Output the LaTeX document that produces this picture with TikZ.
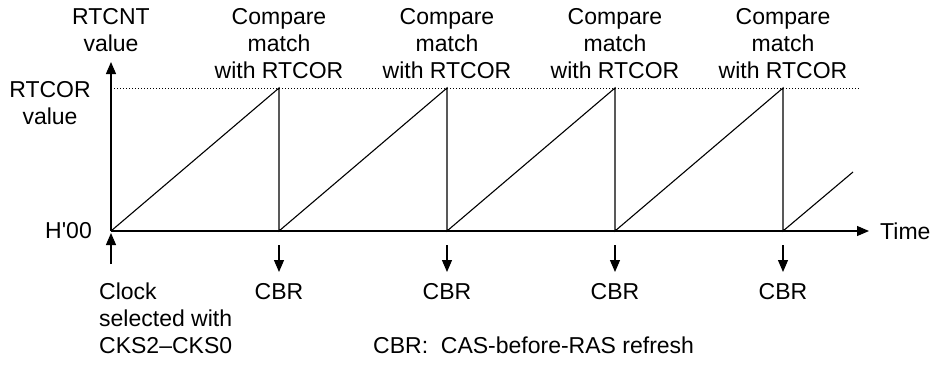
\documentclass[tikz,border=0pt]{standalone}
\usepackage{fontspec}
\setmainfont{Liberation Sans}
\usetikzlibrary{arrows.meta}
\begin{document}
\begin{tikzpicture}[x=1pt,y=-1pt,
  lbl/.style={inner sep=0pt,font=\fontsize{23}{27}\selectfont,align=center},
  lbll/.style={inner sep=0pt,font=\fontsize{23}{27}\selectfont,align=left},
  axis/.style={line width=1.2pt,-{Triangle[length=12pt,width=10pt]}},
  saw/.style={line width=1.1pt},
  evarrow/.style={line width=1.2pt,-{Triangle[length=12pt,width=10pt]}}]
\useasboundingbox (0,0) rectangle (939,364);
% axes
\coordinate (O) at (111,231);
\coordinate (ytop) at (111,62);
\coordinate (xend) at (869,231);
\draw[axis] (O) -- (ytop);
\draw[axis] (O) -- (xend);
% RTCOR level
\coordinate (d0) at (111,88);
\coordinate (d1) at (860,88);
\draw[dotted,line width=1pt] (d0) -- (d1);
% sawtooth
\foreach \i/\x in {1/279,2/447,3/615,4/783}{
  \coordinate (p\i) at (\x,88);
  \coordinate (b\i) at (\x,231);
  \coordinate (as\i) at (\x,245);
  \coordinate (ae\i) at (\x,272);
}
\coordinate (s5) at (853,172);
\draw[saw] (O) -- (p1) -- (b1) -- (p2) -- (b2) -- (p3) -- (b3) -- (p4) -- (b4) -- (s5);
% CBR arrows and labels
\foreach \i in {1,2,3,4}{
  \draw[evarrow] (as\i) -- (ae\i);
  \node[lbl,anchor=north] (cbr\i) at ([yshift=-11pt]ae\i) {CBR};
}
% clock start arrow
\coordinate (cs) at (111,264);
\coordinate (ce) at (111,233);
\draw[evarrow] (cs) -- (ce);
% compare match labels
\foreach \i in {1,2,3,4}{
  \node[lbl,anchor=north] (cm\i) at ([yshift=80pt]p\i) {Compare\\match\\with RTCOR};
}
% axis labels
\node[lbl,anchor=north] (yl) at (111,8) {RTCNT\\value};
\node[lbl,anchor=north] (rl) at (50,81) {RTCOR\\value};
\node[lbl,anchor=east] (h00) at (92,231) {H\textquotesingle 00};
\node[lbl,anchor=west] (tl) at (880,231) {Time};
\node[lbll,anchor=north west] (clk) at (99,283) {Clock\\selected with\\CKS2–CKS0};
\node[lbll,anchor=west] (leg) at (373,345) {CBR:\ \ CAS-before-RAS refresh};
\end{tikzpicture}
\end{document}
